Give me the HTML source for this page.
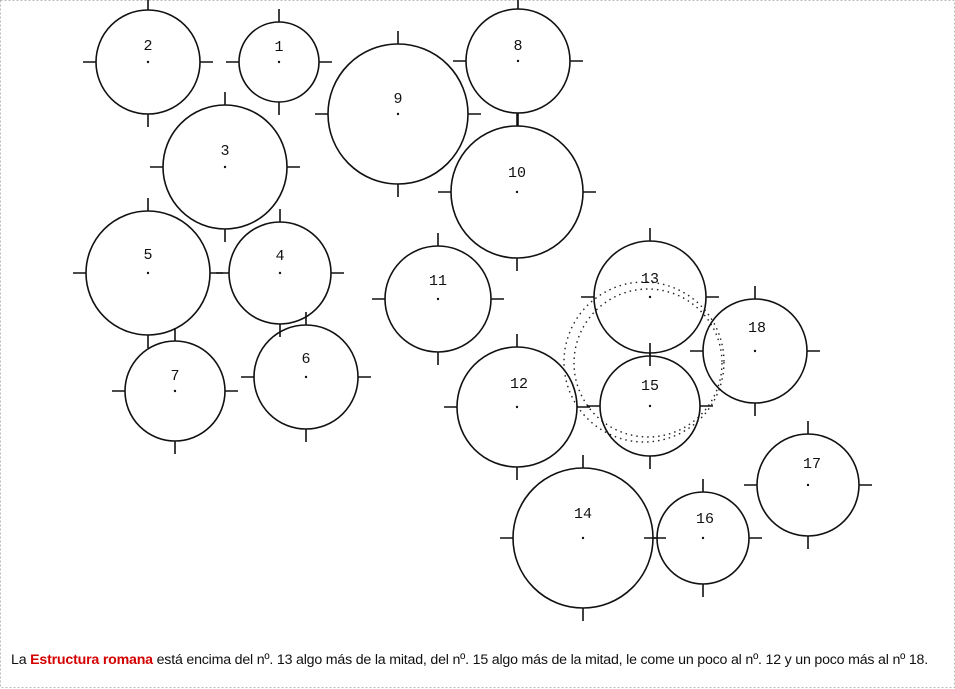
<!DOCTYPE html>
<html><head><meta charset="utf-8"><style>
html,body{margin:0;padding:0;background:#fff}
body{width:955px;height:689px;position:relative;overflow:hidden}
svg{position:absolute;left:0;top:0}
.cap{position:absolute;left:11px;top:652px;font:14.2px "Liberation Sans",sans-serif;color:#111;white-space:nowrap;letter-spacing:-0.2px}
.cap b{color:#d40000}
</style></head><body>
<svg width="955" height="689" xmlns="http://www.w3.org/2000/svg">
<rect x="0.5" y="0.5" width="954" height="687" fill="none" stroke="#bbb" stroke-dasharray="2,2"/>
<g fill="none" stroke="#222" stroke-width="1.4" stroke-dasharray="1.5,4">
<circle cx="644" cy="362" r="80"/>
<circle cx="648" cy="363" r="74"/>
</g>
<g fill="none" stroke="#111" stroke-width="1.6">
<circle cx="148" cy="62" r="52"/><path d="M148 -3V10M148 114V127M83 62H96M200 62H213"/>
<circle cx="279" cy="62" r="40"/><path d="M279 9V22M279 102V115M226 62H239M319 62H332"/>
<circle cx="398" cy="114" r="70"/><path d="M398 31V44M398 184V197M315 114H328M468 114H481"/>
<circle cx="518" cy="61" r="52"/><path d="M518 -4V9M518 113V126M453 61H466M570 61H583"/>
<circle cx="225" cy="167" r="62"/><path d="M225 92V105M225 229V242M150 167H163M287 167H300"/>
<circle cx="517" cy="192" r="66"/><path d="M517 113V126M517 258V271M438 192H451M583 192H596"/>
<circle cx="148" cy="273" r="62"/><path d="M148 198V211M148 335V348M73 273H86M210 273H223"/>
<circle cx="280" cy="273" r="51"/><path d="M280 209V222M280 324V337M216 273H229M331 273H344"/>
<circle cx="438" cy="299" r="53"/><path d="M438 233V246M438 352V365M372 299H385M491 299H504"/>
<circle cx="650" cy="297" r="56"/><path d="M650 228V241M650 353V366M581 297H594M706 297H719"/>
<circle cx="755" cy="351" r="52"/><path d="M755 286V299M755 403V416M690 351H703M807 351H820"/>
<circle cx="175" cy="391" r="50"/><path d="M175 328V341M175 441V454M112 391H125M225 391H238"/>
<circle cx="306" cy="377" r="52"/><path d="M306 312V325M306 429V442M241 377H254M358 377H371"/>
<circle cx="517" cy="407" r="60"/><path d="M517 334V347M517 467V480M444 407H457M577 407H590"/>
<circle cx="650" cy="406" r="50"/><path d="M650 343V356M650 456V469M587 406H600M700 406H713"/>
<circle cx="808" cy="485" r="51"/><path d="M808 421V434M808 536V549M744 485H757M859 485H872"/>
<circle cx="583" cy="538" r="70"/><path d="M583 455V468M583 608V621M500 538H513M653 538H666"/>
<circle cx="703" cy="538" r="46"/><path d="M703 479V492M703 584V597M644 538H657M749 538H762"/>
</g>
<g fill="#111">
<circle cx="148" cy="62" r="1.2"/><circle cx="279" cy="62" r="1.2"/><circle cx="398" cy="114" r="1.2"/><circle cx="518" cy="61" r="1.2"/><circle cx="225" cy="167" r="1.2"/><circle cx="517" cy="192" r="1.2"/><circle cx="148" cy="273" r="1.2"/><circle cx="280" cy="273" r="1.2"/><circle cx="438" cy="299" r="1.2"/><circle cx="650" cy="297" r="1.2"/><circle cx="755" cy="351" r="1.2"/><circle cx="175" cy="391" r="1.2"/><circle cx="306" cy="377" r="1.2"/><circle cx="517" cy="407" r="1.2"/><circle cx="650" cy="406" r="1.2"/><circle cx="808" cy="485" r="1.2"/><circle cx="583" cy="538" r="1.2"/><circle cx="703" cy="538" r="1.2"/>
</g>
<g font-family="Liberation Mono, monospace" font-size="15" fill="#111" text-anchor="middle">
<text x="148" y="50">2</text><text x="279" y="51">1</text><text x="398" y="103">9</text><text x="518" y="50">8</text><text x="225" y="155">3</text><text x="517" y="177">10</text><text x="148" y="259">5</text><text x="280" y="260">4</text><text x="438" y="285">11</text><text x="650" y="283">13</text><text x="757" y="332">18</text><text x="175" y="380">7</text><text x="306" y="363">6</text><text x="519" y="388">12</text><text x="650" y="390">15</text><text x="812" y="468">17</text><text x="583" y="518">14</text><text x="705" y="523">16</text>
</g>
</svg>
<div class="cap">La <b>Estructura romana</b> está encima del nº. 13 algo más de la mitad, del nº. 15 algo más de la mitad, le come un poco al nº. 12 y un poco más al nº 18.</div>
</body></html>
